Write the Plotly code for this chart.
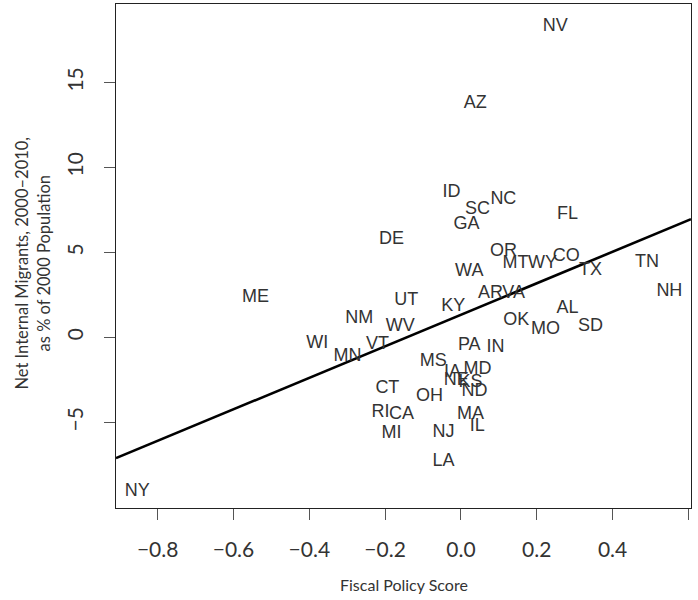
import plotly.graph_objects as go

states = ["NV", "AZ", "ID", "NC", "SC", "GA", "FL", "DE", "OR", "CO", "MT", "WY",
          "TN", "TX", "WA", "NH", "ME", "UT", "AR", "VA", "KY", "AL", "NM", "OK",
          "WV", "SD", "MO", "WI", "PA", "IN", "VT", "MN", "MS", "IA", "MD", "NE",
          "KS", "ND", "CT", "OH", "RI", "CA", "MA", "MI", "NJ", "IL", "LA", "NY"]
fiscal_score = [0.249, 0.038, -0.025, 0.112, 0.044, 0.015, 0.281, -0.183, 0.112, 0.278, 0.144, 0.215,
                0.491, 0.342, 0.022, 0.550, -0.542, -0.144, 0.078, 0.139, -0.020, 0.281, -0.268, 0.146,
                -0.160, 0.342, 0.223, -0.379, 0.022, 0.091, -0.220, -0.299, -0.073, -0.022, 0.044, -0.012,
                0.025, 0.036, -0.194, -0.083, -0.212, -0.157, 0.025, -0.183, -0.046, 0.043, -0.046, -0.854]
net_migrants = [18.32, 13.74, 8.54, 8.13, 7.54, 6.65, 7.24, 5.77, 5.07, 4.77, 4.36, 4.36,
                4.42, 3.94, 3.88, 2.69, 2.35, 2.18, 2.59, 2.59, 1.83, 1.71, 1.12, 1.00,
                0.65, 0.65, 0.47, -0.35, -0.47, -0.59, -0.41, -1.12, -1.41, -2.06, -1.89, -2.53,
                -2.65, -3.18, -3.00, -3.47, -4.42, -4.54, -4.54, -5.66, -5.60, -5.27, -7.30, -9.06]

fit_intercept = 1.33
fit_slope = 9.27

x_ticks = [-0.8, -0.6, -0.4, -0.2, 0.0, 0.2, 0.4, 0.6]
x_tick_labels = ["\u22120.8", "\u22120.6", "\u22120.4", "\u22120.2", "0.0", "0.2", "0.4", "0.6"]
y_ticks = [-5, 0, 5, 10, 15]
y_tick_labels = ["\u22125", "0", "5", "10", "15"]

x_range = [-0.910, 0.607]
y_range = [-10.04, 19.62]

fig = go.Figure()

line_x = x_range
line_y = [fit_intercept + fit_slope * v for v in line_x]
fig.add_trace(go.Scatter(x=line_x, y=line_y, mode="lines",
                         line=dict(color="black", width=2.6), hoverinfo="skip"))

fig.add_trace(go.Scatter(x=fiscal_score, y=net_migrants, text=states, mode="text",
                         textposition="middle center",
                         textfont=dict(family="Liberation Sans, Arial", size=18, color="#333333")))

tick_font = dict(family="Lato, Open Sans, sans-serif", size=21, color="#333333")

fig.update_layout(
    width=698, height=600,
    margin=dict(l=116, r=7, t=4, b=92, autoexpand=False),
    plot_bgcolor="white", paper_bgcolor="white",
    showlegend=False,
    xaxis=dict(range=x_range, tickvals=x_ticks, ticktext=x_tick_labels, automargin=False,
               showgrid=False, zeroline=False, showline=True, mirror=True,
               linecolor="#222222", linewidth=1.3, ticks="outside", ticklen=11,
               tickwidth=1.4, tickcolor="#555555", tickfont=tick_font,
               ticklabelstandoff=12),
    yaxis=dict(range=y_range, tickvals=y_ticks, ticktext=y_tick_labels, automargin=False,
               showgrid=False, zeroline=False, showline=True, mirror=True,
               linecolor="#222222", linewidth=1.3, ticks="outside", ticklen=11,
               tickwidth=1.4, tickcolor="#555555", tickfont=tick_font, tickangle=-90,
               ticklabelstandoff=12),
    annotations=[
        dict(text="Fiscal Policy Score", xref="paper", yref="paper", x=0.5, y=0,
             yshift=-76, showarrow=False, xanchor="center", yanchor="middle",
             font=dict(family="Lato, Open Sans, sans-serif", size=16, color="#333333")),
        dict(text="Net Internal Migrants, 2000\u20132010,<br>as % of 2000 Population",
             xref="paper", yref="paper", x=0, y=0.485, xshift=-83, textangle=-90,
             showarrow=False, xanchor="center", yanchor="middle",
             font=dict(family="Lato, Open Sans, sans-serif", size=16.5, color="#333333")),
    ],
)

fig.write_html("out.html", config={"displayModeBar": False},
               post_script="document.body.style.margin='0';")
